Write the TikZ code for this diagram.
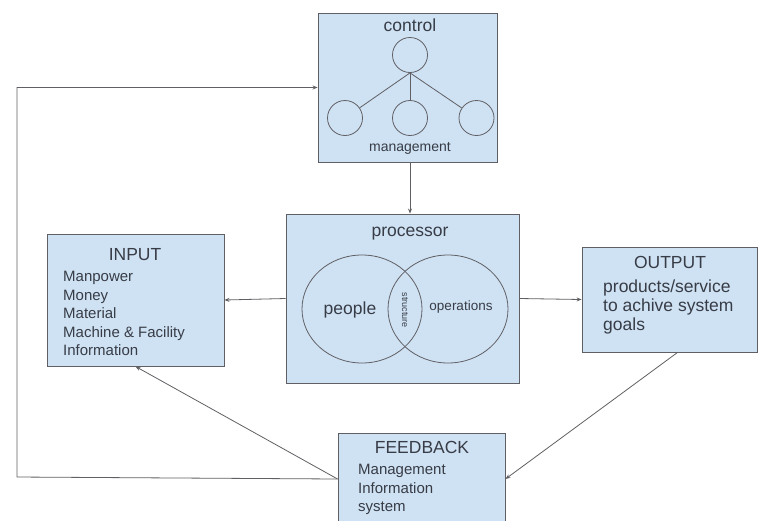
\documentclass[tikz,border=0pt]{standalone}
\usepackage{fontspec}
\setmainfont{Liberation Sans}
\usepackage{tikz}
\usetikzlibrary{arrows.meta, positioning}

\definecolor{boxfill}{RGB}{207,226,243}
\definecolor{boxline}{RGB}{95,95,100}
\definecolor{inktext}{RGB}{55,60,70}

\begin{document}
\begin{tikzpicture}[
        x=1pt, y=-1pt,
        % Style for the boxes
        sysbox/.style={draw=boxline, fill=boxfill, rectangle, line width=0.9pt},
        % Style for the texts
        title/.style={text=inktext, font=\fontsize{17.5}{20}\selectfont},
        items/.style={text=inktext, font=\fontsize{15}{18.5}\selectfont, align=left, anchor=west, inner sep=0pt},
        bubble/.style={draw=boxline, circle, minimum size=35pt, inner sep=0pt, line width=0.8pt},
        arrow/.style={-{Stealth[length=5pt, width=4pt]}, draw=boxline, line width=0.8pt}
    ]
    \useasboundingbox (0,0) rectangle (762,520);
    \clip (0,0) rectangle (762,520);

    % Boxes
    \node[sysbox, minimum width=179pt, minimum height=149pt] at (407.5, 87.5) (control) {};
    \node[sysbox, minimum width=233pt, minimum height=169pt] at (402.5, 298.5) (processor) {};
    \node[sysbox, minimum width=177pt, minimum height=132pt] at (135.5, 300) (input) {};
    \node[sysbox, minimum width=175pt, minimum height=105pt] at (669.5, 299.5) (output) {};
    \node[sysbox, minimum width=167pt, minimum height=92pt] at (421.5, 479) (feedback) {};

    % Control box contents
    \node[title] at (410, 25) (controltitle) {control};
    \node[bubble] at (410, 55) (boss) {};
    \node[bubble] at (345, 118) (staffa) {};
    \node[bubble] at (410, 118) (staffb) {};
    \node[bubble] at (476.5, 118) (staffc) {};
    \draw[boxline, line width=0.8pt] (boss.south) -- (staffa);
    \draw[boxline, line width=0.8pt] (boss.south) -- (staffb.north);
    \draw[boxline, line width=0.8pt] (boss.south) -- (staffc);
    \node[text=inktext, font=\fontsize{14}{16}\selectfont] at (410, 148) (mgmt) {management};

    % Processor box contents
    \node[title] at (410, 234) (processortitle) {processor};
    \draw[boxline, line width=0.8pt] (362, 309) ellipse [x radius=60pt, y radius=54pt];
    \draw[boxline, line width=0.8pt] (448, 309) ellipse [x radius=60pt, y radius=54pt];
    \node[title] at (350, 310) (people) {people};
    \node[text=inktext, font=\fontsize{13.5}{16}\selectfont] at (461, 307) (operations) {operations};
    \node[text=inktext, font=\fontsize{9}{10}\selectfont, rotate=-90] at (405, 310) (structure) {structure};

    % Input box contents
    \node[title] at (135, 255) (inputtitle) {INPUT};
    \node[items] at (63, 313.5) (inputitems) {Manpower\\Money\\Material\\Machine \& Facility\\Information};

    % Output box contents
    \node[title] at (670, 262) (outputtitle) {OUTPUT};
    \node[items, font=\fontsize{17.5}{19}\selectfont] at (603, 307) (outputitems) {products/service\\to achive system\\goals};

    % Feedback box contents
    \node[title] at (422, 447) (feedbacktitle) {FEEDBACK};
    \node[items] at (358, 489.5) (feedbackitems) {Management\\Information\\system};

    % Loop corners
    \coordinate (loopbottom) at (17, 477);
    \coordinate (looptop) at (17, 87.5);

    % Drawing arrows
    \draw[arrow] (control.south -| 410, 0) -- (processor.north -| 410, 0);
    \draw[arrow] (processor.west) -- (input.east);
    \draw[arrow] (processor.east) -- (output.west);
    \draw[arrow] ([xshift=8pt]output.south) -- (feedback.east);
    \draw[arrow] (feedback.west) -- (input.south);
    \draw[arrow] (feedback.west) -- (loopbottom) -- (looptop) -- (control.west);
\end{tikzpicture}
\end{document}
